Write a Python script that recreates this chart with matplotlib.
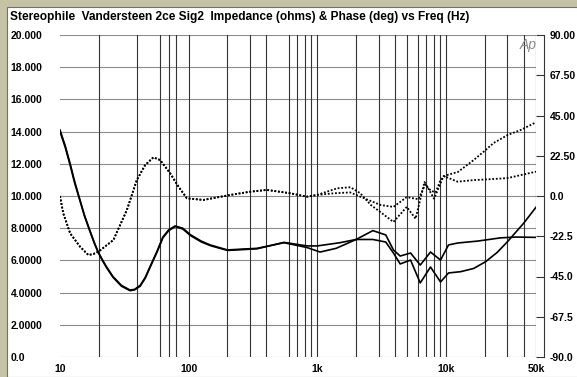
import matplotlib
matplotlib.use('Agg')
import matplotlib.pyplot as plt
from matplotlib.patches import Rectangle

plt.rcParams['font.family'] = ['Liberation Sans', 'DejaVu Sans']

title = 'Stereophile  Vandersteen 2ce Sig2  Impedance (ohms) & Phase (deg) vs Freq (Hz)'

# impedance, ohms (two channels)
freq_a = [10, 11, 12, 13, 14.3, 15.5, 17, 18.5, 19.8, 21.5, 23, 25.8, 30, 35, 38, 42, 46, 50, 57,
          63, 70, 78.5, 90, 103, 125, 147, 200, 340, 550, 830, 1050, 1400, 2000, 2700, 3400, 3900,
          4400, 5300, 6300, 7570, 9060, 10450, 12300, 17600, 26500, 35000, 50000]
imp_a = [14.1, 13.1, 12.0, 10.9, 9.75, 8.8, 7.9, 7.1, 6.52, 6.0, 5.6, 5.0, 4.45, 4.16, 4.2, 4.45,
         4.95, 5.6, 6.6, 7.45, 7.9, 8.14, 8.0, 7.6, 7.2, 6.96, 6.65, 6.75, 7.1, 6.8, 6.52, 6.75,
         7.3, 7.85, 7.58, 6.65, 6.27, 6.46, 5.71, 6.52, 6.02, 6.96, 7.08, 7.2, 7.4, 7.45, 7.43]

freq_b = [10, 11, 12, 13, 14.3, 15.5, 17, 18.5, 19.8, 21.5, 23, 25.8, 30, 35, 38, 42, 46, 50, 57,
          63, 70, 78.5, 90, 103, 125, 147, 200, 340, 550, 830, 1000, 1500, 2000, 2700, 3400, 3900,
          4400, 5300, 6300, 7570, 9060, 10450, 13000, 16400, 20300, 25000, 30000, 40000, 50000]
imp_b = [14.0, 13.0, 11.9, 10.8, 9.7, 8.75, 7.85, 7.05, 6.5, 5.95, 5.55, 4.95, 4.4, 4.12, 4.17,
         4.4, 4.9, 5.55, 6.55, 7.4, 7.85, 8.1, 7.95, 7.55, 7.15, 6.92, 6.62, 6.72, 7.12, 6.9, 6.9,
         7.1, 7.3, 7.3, 7.14, 6.46, 5.78, 6.02, 4.6, 5.59, 4.66, 5.22, 5.3, 5.5, 5.92, 6.5, 7.16,
         8.3, 9.3]

# phase, degrees (two channels)
pfreq_a = [10, 10.6, 12, 14.3, 16.6, 18.2, 19.9, 26, 33.1, 39.5, 45.9, 53.2, 60, 71.8, 83.4, 96.8,
           130, 211, 300, 405, 618, 832, 995, 1424, 1807, 2160, 2600, 3090, 3900, 4950, 5800, 6800,
           8070, 9570, 12300, 16400, 21000, 30000, 50000]
phase_a = [0, -9.7, -20.9, -28.3, -33, -32.4, -31.1, -24.6, -7.8, 8.9, 17.3, 21.6, 20.1, 12.7, 5.2,
           -1.3, -2.2, 0.6, 2.4, 3.4, 1.5, -0.4, 0.6, 4.3, 4.9, 1.5, -5, -9, -14.5, -6.1, -12.7, 7.8,
           -1.5, 11.2, 8.0, 8.9, 9.3, 10, 13.6]

pfreq_b = [10, 10.6, 12, 14.3, 16.6, 18.2, 19.9, 26, 33.1, 39.5, 45.9, 53.2, 60, 71.8, 83.4, 96.8,
           130, 211, 300, 405, 618, 832, 995, 1340, 1800, 2160, 3090, 3900, 4950, 6100, 6900, 7600,
           8300, 9060, 9950, 12400, 16400, 20300, 23400, 30100, 38000, 50000]
phase_b = [0, -9.7, -20.9, -28.3, -33, -32.4, -31.1, -24.6, -7.8, 8.9, 17.3, 21.6, 20.1, 12.7, 5.2,
           -1.3, -2.2, 0.6, 2.4, 3.4, 1.5, -0.4, 0.6, 1.5, 2.0, -0.4, -5, -6.1, -0.6, -1.8, 6.5, 3,
           2, 9, 11.5, 13.5, 20.1, 25.7, 29.6, 34.1, 36.9, 41.2]

grid_freqs = [20, 40, 60, 70, 80, 100, 200, 300, 400, 600, 700, 800, 900, 1000, 2000, 3000, 4000,
              5000, 6000, 7000, 8000, 9000, 10000, 20000, 30000, 40000, 50000]
x_ticks = [10, 100, 1000, 10000, 50000]
x_labels = ['10', '100', '1k', '10k', '50k']
z_ticks = [0, 2, 4, 6, 8, 10, 12, 14, 16, 18, 20]
z_labels = ['0.0', '2.0000', '4.0000', '6.0000', '8.0000', '10.000', '12.000', '14.000',
            '16.000', '18.000', '20.000']
p_ticks = [-90, -67.5, -45, -22.5, 0, 22.5, 45, 67.5, 90]
p_labels = ['-90.0', '-67.5', '-45.0', '-22.5', '0.0', '22.50', '45.00', '67.50', '90.00']

W, H = 577, 377
fig = plt.figure(figsize=(W / 100, H / 100), dpi=100)
fig.patch.set_facecolor('#c6c2a6')
fig.patches.append(Rectangle((7 / W, 0), 1, 1 - 7 / H, transform=fig.transFigure,
                             facecolor='white', edgecolor='#707070', linewidth=0.8, zorder=-10))

ax = fig.add_axes([60 / W, 20 / H, 476 / W, 322 / H])
ax.set_facecolor('none')
ax.set_xscale('log')
ax.set_xlim(10, 50000)
ax.set_ylim(0, 20)
for s in ax.spines.values():
    s.set_visible(False)

for z in z_ticks:
    ax.axhline(z, color='#8c8c8c', lw=0.8, zorder=1)
for f in grid_freqs:
    ax.axvline(f, color='#333333', lw=0.8, zorder=1)

ax.plot(freq_a, imp_a, color='black', lw=1.2, zorder=3)
ax.plot(freq_b, imp_b, color='black', lw=1.2, zorder=3)

ax.set_xticks(x_ticks)
ax.set_xticklabels(x_labels)
ax.xaxis.set_minor_locator(plt.NullLocator())
ax.set_yticks(z_ticks)
ax.set_yticklabels(z_labels)
ax.tick_params(axis='both', length=0, labelsize=7.5)
ax.tick_params(axis='x', pad=5)
ax.tick_params(axis='y', pad=35.5)
for lab in ax.get_yticklabels():
    lab.set_horizontalalignment('left')
    lab.set_fontweight('bold')
for lab in ax.get_xticklabels():
    lab.set_fontweight('bold')

ax2 = ax.twinx()
ax2.set_ylim(-90, 90)
for k in ['left', 'top', 'bottom']:
    ax2.spines[k].set_visible(False)
ax2.spines['right'].set_position(('outward', 6))
ax2.spines['right'].set_color('#333333')
ax2.spines['right'].set_linewidth(0.8)
ax2.plot(pfreq_a, phase_a, color='black', lw=1.3, ls=(0, (1, 1)), zorder=3)
ax2.plot(pfreq_b, phase_b, color='black', lw=1.3, ls=(0, (1, 1)), zorder=3)
ax2.set_yticks(p_ticks)
ax2.set_yticklabels(p_labels)
ax2.tick_params(axis='y', direction='in', length=6, width=0.8, color='#333333',
                labelsize=7.5, pad=4)
for lab in ax2.get_yticklabels():
    lab.set_fontweight('bold')

fig.text(10 / W, 1 - 17 / H, title, fontsize=8.6, fontweight='bold', va='center', ha='left')
fig.text(528 / W, 1 - 45 / H, 'Ap', fontsize=10, fontstyle='italic', color='#8a8a8a',
         ha='center', va='center')

fig.savefig('out.png', dpi=100, facecolor=fig.get_facecolor())
